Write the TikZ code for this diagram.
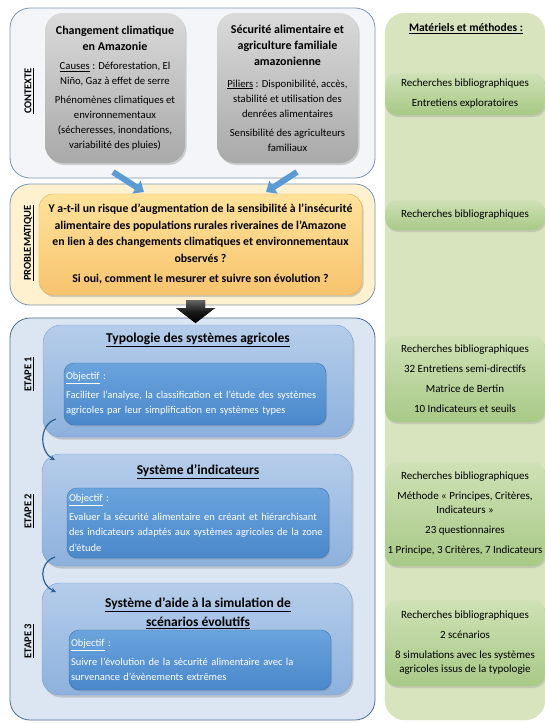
\documentclass[tikz,border=0pt]{standalone}
\usepackage{fontspec}
\setmainfont{Carlito}
\usetikzlibrary{shadows,arrows.meta}
\definecolor{ctxfill}{HTML}{F4F5F8}
\definecolor{frame}{HTML}{7F93AE}
\definecolor{grayT}{HTML}{DADADA}
\definecolor{grayB}{HTML}{A9A9A9}
\definecolor{probfill}{HTML}{FDF1CF}
\definecolor{orT}{HTML}{FFE29A}
\definecolor{orB}{HTML}{F7C46E}
\definecolor{orD}{HTML}{E3AC55}
\definecolor{etfill}{HTML}{DCE6F2}
\definecolor{etframe}{HTML}{4E6F93}
\definecolor{stT}{HTML}{B5CDEA}
\definecolor{stB}{HTML}{8DB1DD}
\definecolor{stD}{HTML}{7BA2D2}
\definecolor{inT}{HTML}{6BA4DD}
\definecolor{inB}{HTML}{4A88CB}
\definecolor{inD}{HTML}{3A74B3}
\definecolor{grcol}{HTML}{D7E4BD}
\definecolor{grT}{HTML}{CFE1B5}
\definecolor{grB}{HTML}{A8C987}
\definecolor{bluearr}{HTML}{5B9BD5}
\definecolor{conncol}{HTML}{2F5F8F}
\newcommand{\gtitle}[1]{{\bfseries\fontsize{12}{15}\selectfont #1}}
\tikzset{
  outerbox/.style={draw=frame, line width=0.8pt, rounded corners=20pt},
  graybox/.style={rounded corners=18pt, top color=grayT, bottom color=grayB,
    align=center, inner sep=0pt,
    drop shadow={opacity=0.35, shadow xshift=1.5pt, shadow yshift=-2pt},
    font=\fontsize{10.7}{15}\selectfont},
  orbox/.style={draw=orD, rounded corners=14pt, top color=orT, bottom color=orB,
    align=center, inner sep=0pt,
    drop shadow={opacity=0.35, shadow xshift=1.5pt, shadow yshift=-2pt},
    font=\bfseries\fontsize{11.8}{16.5}\selectfont},
  stagebox/.style={draw=stD, rounded corners=18pt, top color=stT, bottom color=stB,
    inner sep=0pt,
    drop shadow={opacity=0.35, shadow xshift=1.5pt, shadow yshift=-2.5pt}},
  innerbox/.style={draw=inD, rounded corners=10pt, top color=inT, bottom color=inB,
    text=white, align=left, inner xsep=2pt, inner ysep=0pt, text width=258pt,
    drop shadow={opacity=0.3, shadow xshift=1pt, shadow yshift=-1.5pt},
    font=\fontsize{10.5}{15.5}\selectfont},
  stitle/.style={font=\bfseries\fontsize{13.5}{19}\selectfont, align=center},
  sidelbl/.style={rotate=90, font=\bfseries\fontsize{10.5}{12}\selectfont},
  gbox/.style={rounded corners=12pt, top color=grT, bottom color=grB,
    minimum width=160pt, align=center, inner sep=0pt,
    drop shadow={opacity=0.25, shadow xshift=1pt, shadow yshift=-2pt},
    font=\fontsize{11}{14}\selectfont},
  barrow/.style={draw=bluearr, line width=6pt,
    -{Triangle[length=9pt,width=15pt]}},
  curveconn/.style={draw=conncol, line width=1.2pt,
    -{Stealth[length=5pt,width=5pt]}},
}
\begin{document}
\begin{tikzpicture}[x=1pt,y=-1pt]
\useasboundingbox (0,0) rectangle (545,723);
\fill[white] (0,0) rectangle (545,723);

% ---------- green column ----------
\node[draw=grcol, fill=grcol, rounded corners=20pt, minimum width=160pt,
  minimum height=707pt, inner sep=0pt] (col) at (465,366.5) {};
\node[font=\bfseries\fontsize{11.5}{13}\selectfont] (mm) at (466,29)
  {\underline{Matériels et méthodes :}};
\node[gbox, minimum height=42pt] (g1) at (465,94)
  {Recherches bibliographiques\\[6pt]Entretiens exploratoires};
\node[gbox, minimum height=30pt] (g2) at (465,215)
  {Recherches bibliographiques};
\node[gbox, minimum height=86pt] (g3) at (465,379)
  {Recherches bibliographiques\\[6pt]32 Entretiens semi-directifs\\[6pt]Matrice de Bertin\\[6pt]10 Indicateurs et seuils};
\node[gbox, minimum height=104pt] (g4) at (465,514)
  {Recherches bibliographiques\\[6pt]Méthode « Principes, Critères,\\Indicateurs »\\[6pt]23 questionnaires\\[6pt]1 Principe, 3 Critères, 7 Indicateurs};
\node[gbox, minimum height=86pt] (g5) at (465,643)
  {Recherches bibliographiques\\[6pt]2 scénarios\\[6pt]8 simulations avec les systèmes\\agricoles issus de la typologie};

% ---------- CONTEXTE ----------
\node[outerbox, fill=ctxfill, minimum width=365pt, minimum height=170pt] (ctx) at (192.5,93) {};
\node[sidelbl] (lctx) at (29,91) {\underline{CONTEXTE}};
\node[graybox, minimum width=140pt, minimum height=150pt] (cc) at (115,88)
  {\gtitle{Changement climatique}\\[1pt]\gtitle{en Amazonie}\\[4pt]
   \underline{Causes} : Déforestation, El\\Niño, Gaz à effet de serre\\[4pt]
   Phénomènes climatiques et\\environnementaux\\(sécheresses, inondations,\\variabilité des pluies)};
\node[graybox, minimum width=141pt, minimum height=150pt] (sa) at (287.5,88)
  {\gtitle{Sécurité alimentaire et}\\[1pt]\gtitle{agriculture familiale}\\[1pt]\gtitle{amazonienne}\\[7pt]
   \underline{Piliers} : Disponibilité, accès,\\stabilité et utilisation des\\denrées alimentaires\\[4pt]
   Sensibilité des agriculteurs\\familiaux};

% ---------- PROBLEMATIQUE ----------
\node[outerbox, fill=probfill, minimum width=365pt, minimum height=121pt] (pb) at (192.5,244.5) {};
\node[sidelbl] (lpb) at (29,243) {\underline{PROBLEMATIQUE}};
\node[orbox, minimum width=323pt, minimum height=101pt] (q) at (200.5,244.5)
  {Y a-t-il un risque d’augmentation de la sensibilité à l’insécurité\\
   alimentaire des populations rurales riveraines de l’Amazone\\
   en lien à des changements climatiques et environnementaux\\
   observés ?\\[4pt]
   Si oui, comment le mesurer et suivre son évolution ?};

% blue arrows (context -> problem)
\coordinate (ba1) at (113,172);
\coordinate (ba2) at (144,192);
\coordinate (ba3) at (297,172);
\coordinate (ba4) at (266,192);
\draw[barrow] (ba1) -- (ba2);
\draw[barrow] (ba3) -- (ba4);

% ---------- ETAPES ----------
\node[outerbox, draw=etframe, fill=etfill, minimum width=365pt, minimum height=402pt] (et) at (192.5,519) {};

% black arrow (problem -> etapes)
\fill[top color=black!60, bottom color=black, middle color=black!90]
  (186,300) -- (205,300) -- (205,308) -- (215,308) -- (195.5,323)
  -- (176,308) -- (186,308) -- cycle;

\node[sidelbl] (l1) at (29,374) {\underline{ETAPE 1}};
\node[sidelbl] (l2) at (29,511) {\underline{ETAPE 2}};
\node[sidelbl] (l3) at (29,641) {\underline{ETAPE 3}};

\node[stagebox, minimum width=310pt, minimum height=112pt] (s1) at (198,381) {};
\node[stitle] (t1) at (198,340) {\underline{Typologie des systèmes agricoles}};
\node[innerbox, minimum width=260pt, minimum height=62pt] (i1) at (195,394)
  {\underline{Objectif} :\\[3pt]
   Faciliter l’analyse, la classification et l’étude des systèmes\\
   agricoles par leur simplification en systèmes types};

\node[stagebox, minimum width=310pt, minimum height=112pt] (s2) at (197,510) {};
\node[stitle] (t2) at (198,472) {\underline{Système d’indicateurs}};
\node[innerbox, minimum width=260pt, minimum height=70pt] (i2) at (198,523)
  {\underline{Objectif} :\\[3pt]
   Evaluer la sécurité alimentaire en créant et hiérarchisant\\
   des indicateurs adaptés aux systèmes agricoles de la zone\\
   d’étude};

\node[stagebox, minimum width=310pt, minimum height=112pt] (s3) at (197,639) {};
\node[stitle] (t3) at (198,613) {\underline{Système d’aide à la simulation de}\\\underline{scénarios évolutifs}};
\node[innerbox, minimum width=260pt, minimum height=60pt] (i3) at (200,660)
  {\underline{Objectif} :\\[3pt]
   Suivre l’évolution de la sécurité alimentaire avec la\\
   survenance d’évènements extrêmes};

% curved connectors between stages
\coordinate (c1) at (56,419);
\coordinate (c2) at (55,460);
\coordinate (c3) at (55,557);
\coordinate (c4) at (56,592);
\draw[curveconn] (c1) .. controls (38,425) and (40,452) .. (c2);
\draw[curveconn] (c3) .. controls (38,563) and (40,585) .. (c4);
\end{tikzpicture}
\end{document}
